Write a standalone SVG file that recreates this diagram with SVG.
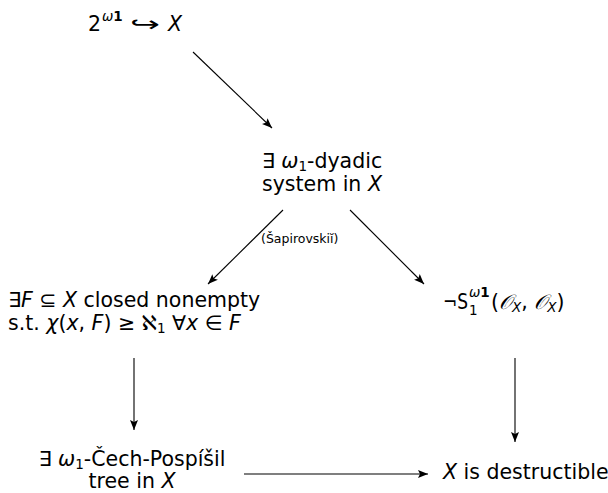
<svg xmlns="http://www.w3.org/2000/svg" width="608" height="493" viewBox="0 0 608 493">
<style>
text{font-family:"DejaVu Sans","Liberation Sans",sans-serif;font-size:20.5px;fill:#000}
.i{font-style:italic}
.s{font-size:13.5px}
.lab{font-size:12.5px}
.c{stroke:#000;stroke-width:1.1;fill:none;marker-end:url(#ah)}
</style>
<defs>
<marker id="ah" viewBox="0 0 10 10" refX="10" refY="5" markerWidth="10" markerHeight="10" markerUnits="userSpaceOnUse" orient="auto">
<path d="M0,1 L10,5 L0,9 L2,5 Z" fill="#000"/>
</marker>
</defs>
<g id="connectors">
<line class="c" x1="193" y1="52" x2="272" y2="128"/>
<line class="c" x1="283" y1="210" x2="208" y2="284"/>
<line class="c" x1="350" y1="210" x2="424" y2="284"/>
<line class="c" x1="134" y1="358" x2="134" y2="430"/>
<line class="c" x1="515" y1="358" x2="515" y2="442"/>
<line class="c" x1="244" y1="474" x2="428" y2="474"/>
<text class="lab" x="261" y="243">(Šapirovskiĭ)</text>
</g>
<g id="n1">
<text x="88" y="31">2</text>
<text class="s" x="102" y="21"><tspan class="i">ω</tspan><tspan font-weight="bold">1</tspan></text>
<text x="130" y="31" textLength="30" lengthAdjust="spacingAndGlyphs">↪</text>
<text class="i" x="168" y="31">X</text>
</g>
<g id="n2">
<text x="322" y="168" text-anchor="middle">∃ <tspan class="i">ω</tspan><tspan class="s" dy="3">1</tspan><tspan dy="-3">-dyadic</tspan></text>
<text x="322" y="191" text-anchor="middle">system in <tspan class="i">X</tspan></text>
</g>
<g id="n3">
<text x="8" y="307">∃<tspan class="i">F</tspan> ⊆ <tspan class="i">X</tspan> closed nonempty</text>
<text x="8" y="330">s.t. <tspan class="i">χ</tspan>(<tspan class="i">x</tspan>, <tspan class="i">F</tspan>) ≥ ℵ<tspan class="s" dy="3">1</tspan><tspan dy="-3"> ∀</tspan><tspan class="i">x</tspan> ∈ <tspan class="i">F</tspan></text>
</g>
<g id="n4">
<text x="443" y="309" textLength="25" lengthAdjust="spacingAndGlyphs">¬S</text>
<text class="s" x="469" y="315">1</text>
<text class="s" x="469" y="297"><tspan class="i">ω</tspan><tspan font-weight="bold">1</tspan></text>
<text x="491" y="309">(<tspan class="i">𝒪</tspan><tspan class="s i" dy="3">X</tspan><tspan dy="-3">, </tspan><tspan class="i">𝒪</tspan><tspan class="s i" dy="3">X</tspan><tspan dy="-3">)</tspan></text>
</g>
<g id="n5">
<text x="132" y="466" text-anchor="middle">∃ <tspan class="i">ω</tspan><tspan class="s" dy="3">1</tspan><tspan dy="-3">-Čech-Pospíšil</tspan></text>
<text x="132" y="488" text-anchor="middle">tree in <tspan class="i">X</tspan></text>
</g>
<g id="n6"><text x="443" y="479"><tspan class="i">X</tspan> is destructible</text></g>
</svg>
